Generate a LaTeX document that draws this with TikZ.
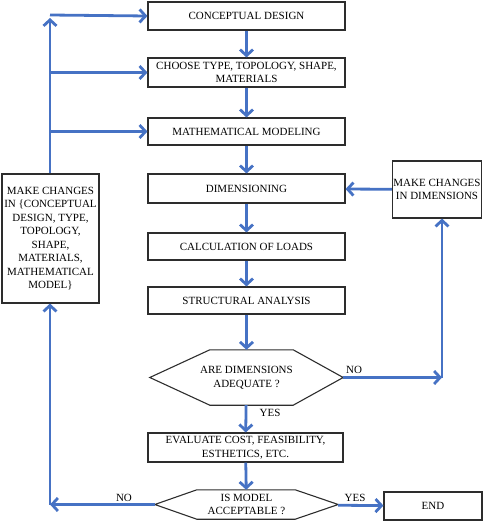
\documentclass[tikz,border=0pt]{standalone}
\usepackage{fontspec}
\setmainfont{Liberation Serif}
\usetikzlibrary{arrows.meta}
\definecolor{flowblue}{RGB}{70,114,196}
\definecolor{boxgray}{RGB}{45,45,45}

\begin{document}
\begin{tikzpicture}
[
x=1pt,y=-1pt,
font=\fontsize{11}{13.5}\selectfont,
block/.style 2 args={draw=boxgray,line width=1.1pt,fill=white,align=center,inner sep=1pt,minimum width=#1,minimum height=#2},
decision/.style 2 args={align=center,inner sep=1pt,minimum width=#1,minimum height=#2},
hexline/.style={draw=boxgray,line width=1.1pt},
flow/.style={draw=flowblue,line width=2.8pt,-{Straight Barb[length=6pt,width=13pt]}},
]
\useasboundingbox (0,0) rectangle (491,522);

%Place the nodes
\node[block={197pt}{28pt}] (cd) at (246.5,16) {CONCEPTUAL DESIGN};
\node[block={197pt}{29pt}] (ct) at (246.5,72.5) {CHOOSE TYPE, TOPOLOGY, SHAPE,\\MATERIALS};
\node[block={197pt}{27pt}] (mm) at (246.5,131.5) {MATHEMATICAL MODELING};
\node[block={197pt}{29pt}] (dm) at (246.5,188.5) {DIMENSIONING};
\node[block={197pt}{27pt}] (cl) at (246.5,246.5) {CALCULATION OF LOADS};
\node[block={197pt}{27pt}] (sa) at (246.5,300.5) {STRUCTURAL ANALYSIS};
\node[decision={193pt}{55pt}] (da) at (246.5,377.5) {ARE DIMENSIONS\\ADEQUATE ?};
\node[block={195pt}{29pt}] (ev) at (245.5,447.5) {EVALUATE COST, FEASIBILITY,\\ESTHETICS, ETC.};
\node[decision={183pt}{29pt}] (ma) at (246.5,504.5) {IS MODEL\\ACCEPTABLE ?};
\node[block={98pt}{28pt}] (en) at (433,506) {END};
\node[block={97pt}{129pt}] (mc) at (50.5,238.5) {MAKE CHANGES\\IN \{CONCEPTUAL\\DESIGN, TYPE,\\TOPOLOGY,\\SHAPE,\\MATERIALS,\\MATHEMATICAL\\MODEL\}};
\node[block={86pt}{57pt}] (md) at (437,189.5) {MAKE CHANGES\\IN DIMENSIONS};
\coordinate (rc) at (442,377.5);
\coordinate (lc) at (50,504.5);
\coordinate (tc) at (50,15);
\node (no1) at (354,370) {NO};
\node (ys1) at (270,413) {YES};
\node (no2) at (124,498) {NO};
\node (ys2) at (355,498) {YES};

%Draw the hexagons
\draw[hexline] (da.west) -- ([xshift=60pt]da.north west) -- ([xshift=-50pt]da.north east)
  -- (da.east) -- ([xshift=-50pt]da.south east) -- ([xshift=60pt]da.south west) -- cycle;
\draw[hexline] (ma.west) -- ([xshift=42pt]ma.north west) -- ([xshift=-43pt]ma.north east)
  -- (ma.east) -- ([xshift=-43pt]ma.south east) -- ([xshift=42pt]ma.south west) -- cycle;

%Draw the connections
\draw[flow] (cd) to (ct);
\draw[flow] (ct) to (mm);
\draw[flow] (mm) to (dm);
\draw[flow] (dm) to (cl);
\draw[flow] (cl) to (sa);
\draw[flow] (sa) to (da);
\draw[flow] (da) to (ev);
\draw[flow] (ev) to (ma);
\draw[flow] (ma) to (en);
\draw[flow] (da.east) to (rc);
\draw[flow] (rc) to (md.south -| rc);
\draw[flow] (md) to (dm);
\draw[flow] (ma.west) to (lc);
\draw[flow] (lc) to (mc.south -| lc);
\draw[flow,shorten >=3pt] (mc.north -| tc) to (tc);
\draw[flow] (tc) to (cd.west);
\draw[flow] (tc |- ct.west) to (ct.west);
\draw[flow] (tc |- mm.west) to (mm.west);
\end{tikzpicture}
\end{document}
